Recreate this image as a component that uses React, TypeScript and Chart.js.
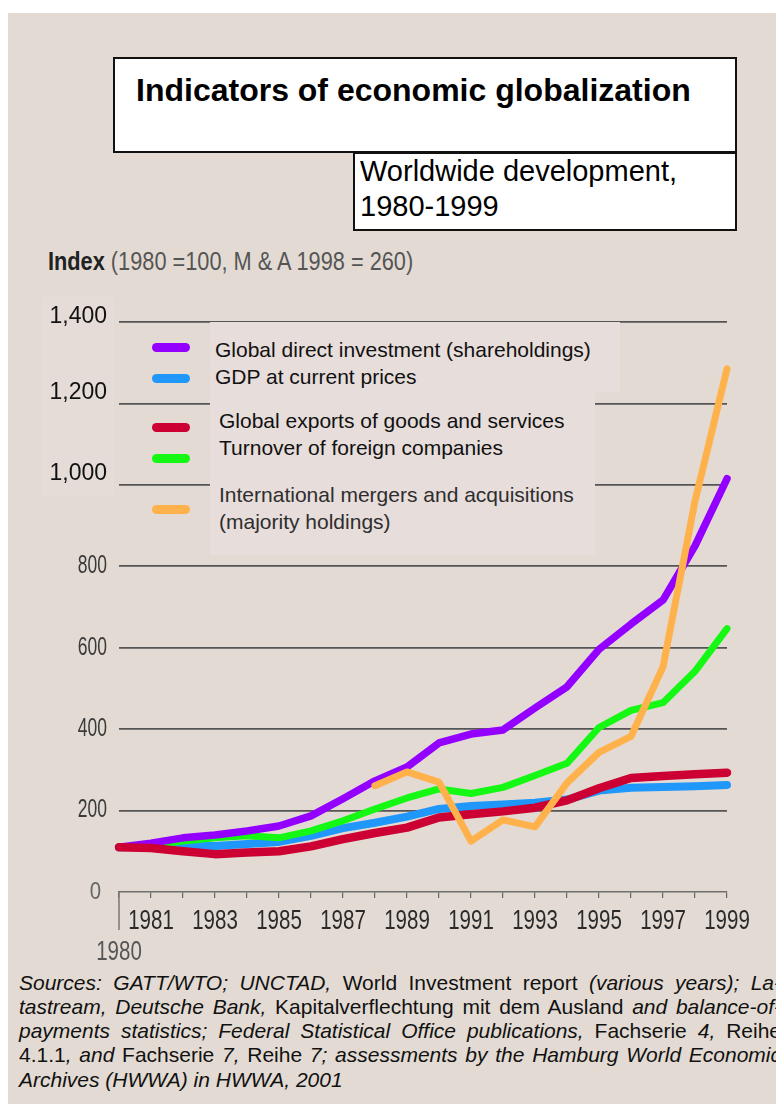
import React, { useEffect, useRef } from 'react';
import { Chart, registerables } from 'chart.js';

Chart.register(...registerables);

// ---------- data ----------
const years = [
  '1980', '1981', '1982', '1983', '1984', '1985', '1986', '1987', '1988', '1989',
  '1990', '1991', '1992', '1993', '1994', '1995', '1996', '1997', '1998', '1999',
];
const xLabelsTopRow = ['1981', '1983', '1985', '1987', '1989', '1991', '1993', '1995', '1997', '1999'];
const xLabelsBottomRow = ['1980'];

const yTickValues = [0, 200, 400, 600, 800, 1000, 1200, 1400];
const yTickLabels = ['0', '200', '400', '600', '800', '1,000', '1,200', '1,400'];

const directInvestment = [110, 120, 133, 140, 150, 162, 187, 229, 273, 307, 366, 388, 398, 452, 504, 596, 658, 717, 850, 1015];
const gdp = [110, 112, 115, 113, 118, 123, 138, 157, 170, 185, 204, 211, 215, 219, 227, 249, 256, 258, 260, 263];
const exportsGS = [110, 108, 100, 93, 97, 100, 112, 130, 145, 158, 183, 191, 198, 207, 225, 255, 280, 285, 289, 293];
const turnover = [110, 115, 125, 133, 138, 133, 150, 175, 204, 231, 253, 242, 257, 286, 316, 404, 446, 465, 542, 647];
const mergers = [null, null, null, null, null, null, null, null, 261, 295, 270, 125, 177, 160, 268, 343, 382, 553, 960, 1285];

const seriesNames = [
  'Global direct investment (shareholdings)',
  'GDP at current prices',
  'Global exports of goods and services',
  'Turnover of foreign companies',
  'International mergers and acquisitions\n(majority holdings)',
];
const seriesColors = ['#9300ff', '#1f97fb', '#cc0033', '#14f814', '#ffb24c'];

const titleText = 'Indicators of economic globalization';
const subtitleLines = ['Worldwide development,', '1980-1999'];
const indexBold = 'Index';
const indexRest = ' (1980 =100, M & A 1998 = 260)';

// ---------- styling helpers ----------
const FONT = '"Liberation Sans", Arial, Helvetica, sans-serif';

function drawScaledText(ctx, text, x, y, opts) {
  ctx.save();
  ctx.translate(x, y);
  ctx.scale(opts.sx, 1);
  ctx.font = `${opts.weight || 'normal'} ${opts.size}px ${FONT}`;
  ctx.textAlign = opts.align;
  ctx.textBaseline = 'middle';
  ctx.fillStyle = opts.color;
  ctx.fillText(text, 0, 0);
  ctx.restore();
}

const axisLabelPlugin = {
  id: 'axisLabelPlugin',
  afterDraw(chart) {
    const ctx = chart.ctx;
    const xs = chart.scales.x;
    const ys = chart.scales.y;
    const base = ys.getPixelForValue(0);
    ctx.save();
    // long first tick (1980)
    const x0 = xs.getPixelForValue(0);
    ctx.strokeStyle = '#777';
    ctx.lineWidth = 1.5;
    ctx.beginPath();
    ctx.moveTo(x0, base);
    ctx.lineTo(x0, base + 38);
    ctx.stroke();

    // x labels
    years.forEach((yr, i) => {
      const px = xs.getPixelForValue(i);
      if (xLabelsTopRow.includes(yr)) {
        drawScaledText(ctx, yr, px, base + 30, { sx: 0.76, size: 27, align: 'center', color: '#2a2a2a' });
      }
      if (xLabelsBottomRow.includes(yr)) {
        drawScaledText(ctx, yr, px, base + 61, { sx: 0.76, size: 27, align: 'center', color: '#555' });
      }
    });

    // y labels
    yTickValues.forEach((v, i) => {
      const py = ys.getPixelForValue(v);
      const label = yTickLabels[i];
      if (v >= 1000) {
        const off = v === 1400 ? -5 : -11;
        drawScaledText(ctx, label, 107, py + off, { sx: 1, size: 23, align: 'right', color: '#111' });
      } else if (v === 0) {
        drawScaledText(ctx, label, 101, py, { sx: 0.85, size: 24, align: 'right', color: '#666' });
      } else {
        drawScaledText(ctx, label, 107, py, { sx: 0.7, size: 25, align: 'right', color: '#3a3a3a' });
      }
    });
    ctx.restore();
  },
};

function buildConfig() {
  const common = {
    pointRadius: 0,
    pointHoverRadius: 0,
    borderCapStyle: 'round',
    borderJoinStyle: 'round',
    tension: 0,
    fill: false,
    clip: false,
    spanGaps: false,
  };
  const datasets = [
    { label: seriesNames[4], data: mergers, borderColor: seriesColors[4], borderWidth: 7, order: 1 },
    { label: seriesNames[2], data: exportsGS, borderColor: seriesColors[2], borderWidth: 8.5, order: 2 },
    { label: seriesNames[0], data: directInvestment, borderColor: seriesColors[0], borderWidth: 7.5, order: 3 },
    { label: seriesNames[3], data: turnover, borderColor: seriesColors[3], borderWidth: 7, order: 4 },
    { label: seriesNames[1], data: gdp, borderColor: seriesColors[1], borderWidth: 8, order: 5 },
  ].map((d) => ({ ...common, ...d }));

  return {
    type: 'line',
    data: { labels: years, datasets },
    options: {
      responsive: false,
      animation: false,
      devicePixelRatio: 1,
      events: [],
      layout: { padding: { left: 119, right: 49, top: 22, bottom: 62 } },
      plugins: { legend: { display: false }, tooltip: { enabled: false }, title: { display: false } },
      scales: {
        x: {
          type: 'category',
          offset: false,
          grid: {
            display: true,
            drawOnChartArea: false,
            drawTicks: true,
            tickLength: 6,
            color: '#666',
            lineWidth: 1.2,
          },
          border: { display: true, color: '#6e6e6e', width: 1.5 },
          ticks: { display: false, autoSkip: false },
        },
        y: {
          min: 0,
          max: 1400,
          afterBuildTicks: (scale) => {
            scale.ticks = yTickValues.map((v) => ({ value: v }));
          },
          grid: {
            drawTicks: false,
            color: (c) => (c.tick && c.tick.value === 0 ? 'rgba(0,0,0,0)' : '#555'),
            lineWidth: 1.8,
          },
          border: { display: false },
          ticks: { display: false },
        },
      },
    },
    plugins: [axisLabelPlugin],
  };
}

// legend layout (positions only)
const legendSwatchY = [347, 378, 427, 458, 509];
const legendTextLayout = [
  { left: 215, top: 336 },
  { left: 215, top: 363 },
  { left: 219, top: 407 },
  { left: 219, top: 434 },
  { left: 219, top: 481 },
];

const sourceLines = [
  [
    { t: 'Sources: GATT/WTO; UNCTAD,', i: true },
    { t: ' World Investment report ', i: false },
    { t: '(various years); La-', i: true },
  ],
  [
    { t: 'tastream, Deutsche Bank,', i: true },
    { t: ' Kapitalverflechtung mit dem Ausland ', i: false },
    { t: 'and balance-of-', i: true },
  ],
  [
    { t: 'payments statistics; Federal Statistical Office publications,', i: true },
    { t: ' Fachserie ', i: false },
    { t: '4,', i: true },
    { t: ' Reihe', i: false },
  ],
  [
    { t: '4.1.1', i: false },
    { t: ', and', i: true },
    { t: ' Fachserie ', i: false },
    { t: '7,', i: true },
    { t: ' Reihe ', i: false },
    { t: '7; assessments by the Hamburg World Economic', i: true },
  ],
  [{ t: 'Archives (HWWA) in HWWA, 2001', i: true }],
];

export default function App() {
  const canvasRef = useRef(null);

  useEffect(() => {
    document.documentElement.style.overflow = 'hidden';
    document.body.style.overflow = 'hidden';
    const chart = new Chart(canvasRef.current, buildConfig());
    return () => chart.destroy();
  }, []);

  const abs = { position: 'absolute' } as const;

  return (
    <div style={{ position: 'fixed', left: 0, top: 0, width: 776, height: 1104, overflow: 'hidden', fontFamily: FONT }}>
      {/* panel background */}
      <div style={{ ...abs, left: 8, top: 13, width: 768, height: 1091, background: '#e3dbd3' }} />

      {/* faint label patch */}
      <div style={{ ...abs, left: 42, top: 297, width: 72, height: 200, background: '#e5dbd7' }} />

      <canvas
        ref={canvasRef}
        width={776}
        height={660}
        style={{ ...abs, left: 0, top: 300, width: 776, height: 660 }}
      />

      {/* legend patch */}
      <div style={{ ...abs, left: 210, top: 322, width: 410, height: 70, background: '#e7ddda' }} />
      <div style={{ ...abs, left: 210, top: 392, width: 385, height: 163, background: '#e7ddda' }} />

      {/* legend swatches */}
      {seriesColors.map((c, i) => (
        <div
          key={'sw' + i}
          style={{ ...abs, left: 152, top: legendSwatchY[i] - 4.5, width: 38, height: 9, borderRadius: 4.5, background: c }}
        />
      ))}
      {/* legend texts */}
      {seriesNames.map((name, i) => (
        <div
          key={'lg' + i}
          style={{
            ...abs,
            left: legendTextLayout[i].left,
            top: legendTextLayout[i].top,
            fontSize: 21,
            lineHeight: i === 4 ? '27px' : '27px',
            color: i === 4 ? '#2e2e2e' : '#111',
            whiteSpace: 'pre',
          }}
        >
          {name}
        </div>
      ))}

      {/* title boxes */}
      <div style={{ ...abs, left: 113, top: 57, width: 624, height: 96, boxSizing: 'border-box', border: '2px solid #111', background: '#fff' }} />
      <div style={{ ...abs, left: 136, top: 74, fontSize: 32, lineHeight: '32px', fontWeight: 'bold', whiteSpace: 'nowrap', color: '#000' }}>
        {titleText}
      </div>
      <div style={{ ...abs, left: 353, top: 152, width: 384, height: 79, boxSizing: 'border-box', border: '2px solid #111', background: '#fff' }} />
      <div style={{ ...abs, left: 360, top: 154, fontSize: 29, lineHeight: '35px', whiteSpace: 'nowrap', color: '#000' }}>
        {subtitleLines[0]}
        <br />
        {subtitleLines[1]}
      </div>

      {/* index label */}
      <div
        style={{
          ...abs,
          left: 48,
          top: 249,
          fontSize: 25,
          lineHeight: '25px',
          whiteSpace: 'pre',
          transform: 'scaleX(0.87)',
          transformOrigin: 'left top',
        }}
      >
        <span style={{ fontWeight: 'bold', color: '#222' }}>{indexBold}</span>
        <span style={{ color: '#555' }}>{indexRest}</span>
      </div>

      {/* sources */}
      <div style={{ ...abs, left: 19, top: 971, width: 762, fontSize: 21, lineHeight: '24px', color: '#111' }}>
        {sourceLines.map((line, li) => (
          <div
            key={'src' + li}
            style={{
              width: 762,
              height: 24,
              textAlign: li < 4 ? 'justify' : 'left',
              textAlignLast: li < 4 ? 'justify' : 'left',
              marginTop: li === 4 ? 1 : 0,
            }}
          >
            {line.map((seg, si) => (
              <span key={si} style={{ fontStyle: seg.i ? 'italic' : 'normal' }}>
                {seg.t}
              </span>
            ))}
          </div>
        ))}
      </div>
    </div>
  );
}
